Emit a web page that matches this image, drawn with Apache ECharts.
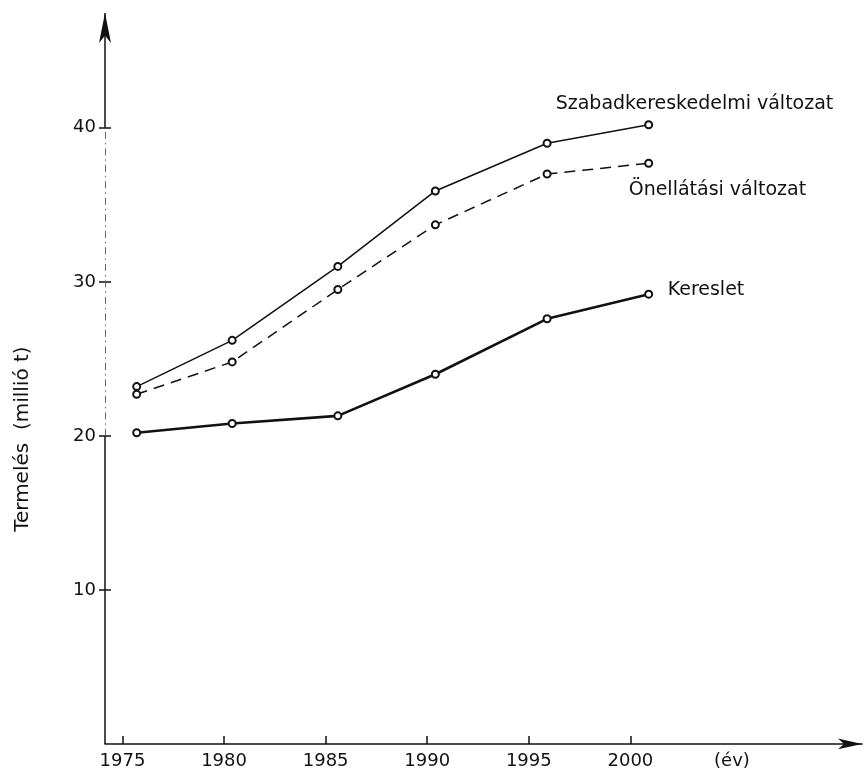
<!DOCTYPE html>
<html>
<head>
<meta charset="utf-8">
<style>
  html, body { margin: 0; padding: 0; background: #fff; }
  #chart { width: 864px; height: 778px; }
</style>
<script src="https://cdn.jsdelivr.net/npm/echarts@6/dist/echarts.min.js"></script>
</head>
<body>
<div id="chart"></div>
<script>
// Years at which the three scenarios are plotted
const years = [1975.7, 1980.4, 1985.6, 1990.4, 1995.9, 2000.9];

// Production / demand, million tonnes
const szabadkereskedelmi = [23.2, 26.2, 31.0, 35.9, 39.0, 40.2];
const onellatasi = [22.7, 24.8, 29.5, 33.7, 37.0, 37.7];
const kereslet = [20.2, 20.8, 21.3, 24.0, 27.6, 29.2];

// Axis ticks and labels
const xTicks = [1975, 1980, 1985, 1990, 1995, 2000];
const xUnitAt = 2005;
const xUnitLabel = '(év)';
const yTicks = [10, 20, 30, 40];
const yAxisName = 'Termelés  (millió t)';

// Axis extents
const xMin = 1974.14, xMax = 2011.4;
const yMin = 0, yMax = 47.5, yArrowEnd = 47.45;

const INK = '#111';
const FONT = 'DejaVu Sans';

const pairs = (vals) => years.map((y, i) => [y, vals[i]]);

function lineSeries(name, vals, width, type, labelOffset) {
  return {
    name: name,
    type: 'line',
    data: pairs(vals),
    symbol: 'emptyCircle',
    symbolSize: 7,
    itemStyle: { color: INK, borderColor: INK, borderWidth: 1.2 },
    lineStyle: { color: INK, width: width, type: type },
    emphasis: { disabled: true },
    silent: true,
    endLabel: {
      show: true,
      formatter: '{a}',
      distance: 0,
      offset: labelOffset,
      color: INK,
      fontFamily: FONT,
      fontSize: 19
    }
  };
}

const axisLineSeg = (from, to, style, endSymbol) => [
  { coord: [xMin, from], symbol: 'none' },
  { coord: [xMin, to], symbol: endSymbol || 'none', symbolSize: [9, 30], lineStyle: style }
];

const chart = echarts.init(document.getElementById('chart'), null, { renderer: 'canvas' });

chart.setOption({
  animation: false,
  backgroundColor: '#fff',
  grid: { left: 105, right: 2, top: 12.3, bottom: 34.1, containLabel: false },
  xAxis: {
    type: 'value',
    min: xMin,
    max: xMax,
    axisLine: {
      show: true,
      lineStyle: { color: INK, width: 1.5 },
      symbol: ['none', 'arrow'],
      symbolSize: [8, 24]
    },
    axisTick: {
      show: true,
      inside: true,
      length: 8,
      customValues: xTicks,
      lineStyle: { color: INK, width: 1.5 }
    },
    axisLabel: {
      show: true,
      customValues: xTicks.concat([xUnitAt]),
      formatter: (v) => (v === xUnitAt ? xUnitLabel : String(v)),
      margin: 8,
      color: INK,
      fontFamily: FONT,
      fontSize: 18
    },
    splitLine: { show: false }
  },
  yAxis: [
    {
      type: 'value',
      position: 'left',
      min: yMin,
      max: yMax,
      name: yAxisName,
      nameLocation: 'middle',
      nameRotate: 90,
      nameGap: 72,
      nameTextStyle: {
        color: INK,
        fontFamily: FONT,
        fontSize: 20,
        padding: [0, 122, 0, 0]
      },
      axisLine: { show: false },
      axisTick: {
        show: true,
        length: 6,
        customValues: yTicks,
        lineStyle: { color: INK, width: 1.5 }
      },
      axisLabel: {
        customValues: yTicks,
        margin: 9,
        color: INK,
        fontFamily: FONT,
        fontSize: 18
      },
      splitLine: { show: false }
    },
    {
      // mirror ticks so each y tick crosses the axis
      type: 'value',
      position: 'left',
      min: yMin,
      max: yMax,
      axisLine: { show: false },
      axisTick: {
        show: true,
        inside: true,
        length: 6,
        customValues: yTicks,
        lineStyle: { color: INK, width: 1.5 }
      },
      axisLabel: { show: false },
      splitLine: { show: false }
    }
  ],
  series: [
    lineSeries('Szabadkereskedelmi változat', szabadkereskedelmi, 1.5, 'solid', [-93, -21]),
    lineSeries('Önellátási változat', onellatasi, 1.5, [11, 7], [-20, 27]),
    Object.assign(lineSeries('Kereslet', kereslet, 2.6, 'solid', [19, -4]), {
      // the y axis: solid at the bottom, dash-dot through the middle, arrow on top
      markLine: {
        silent: true,
        animation: false,
        symbol: 'none',
        label: { show: false },
        lineStyle: { color: INK, width: 1.5, type: 'solid' },
        data: [
          axisLineSeg(yMin, 20, { color: INK, width: 1.5, type: 'solid' }),
          axisLineSeg(20, 40, { color: '#666', width: 1, type: [7, 4, 1.5, 4] }),
          axisLineSeg(40, yArrowEnd, { color: INK, width: 1.5, type: 'solid' }, 'arrow')
        ]
      }
    })
  ]
});
</script>
</body>
</html>
